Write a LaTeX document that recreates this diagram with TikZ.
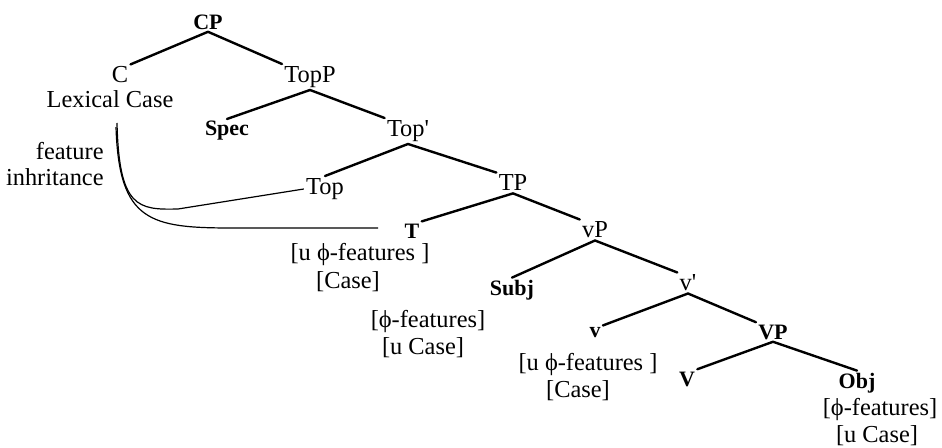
\documentclass[tikz,border=0pt]{standalone}
\usepackage{fontspec}
\setmainfont{Liberation Serif}
\newfontfamily\treeserif{Liberation Serif}
\begin{document}
\begin{tikzpicture}[x=0.5pt,y=-0.5pt,
  lab/.style={inner sep=1pt, font=\treeserif\fontsize{12.2}{14}\selectfont},
  blab/.style={inner sep=1pt, font=\treeserif\fontsize{11}{12}\selectfont\bfseries},
  feat/.style={inner sep=1pt, font=\treeserif\fontsize{12.2}{14}\selectfont},
  branch/.style={line width=1.2pt, line cap=round},
  inh/.style={line width=0.6pt}]
\useasboundingbox (0,0) rectangle (942,448);

% tree nodes
\node[blab] (CP) at (208,22) {CP};
\node[lab] (C) at (120,75) {C};
\node[lab] (LC) at (110,99) {Lexical Case};
\node[lab] (TopP) at (310,77) {TopP};
\node[blab] (Spec) at (227,131) {Spec};
\node[lab] (Top1) at (408,131) {Top'};
\node[lab] (Top) at (325,189) {Top};
\node[lab] (TP) at (513,183) {TP};
\node[blab] (T) at (412,231) {T};
\node[feat] (Tf1) at (360,255) {[u ϕ-features ]};
\node[feat] (Tf2) at (348,282) {[Case]};
\node[lab] (vP) at (595,230) {vP};
\node[blab] (Subj) at (512,290) {Subj};
\node[feat] (Sf1) at (428,322) {[ϕ-features]};
\node[feat] (Sf2) at (423,348) {[u Case]};
\node[lab] (v1) at (688,283) {v'};
\node[blab] (v) at (595,333) {v};
\node[feat] (vf1) at (588,365) {[u ϕ-features ]};
\node[feat] (vf2) at (578,391) {[Case]};
\node[blab] (VP) at (773,332) {VP};
\node[blab] (V) at (687,379) {V};
\node[blab] (Obj) at (857,383) {Obj};
\node[feat] (Of1) at (880,410) {[ϕ-features]};
\node[feat] (Of2) at (877,436) {[u Case]};

\node[lab, align=right, anchor=east] (FI) at (106,164) {feature\\[-1pt]inhritance};

% branches
\draw[branch] (CP.south) -- (C.north east);
\draw[branch] (CP.south) -- (TopP.north west);
\draw[branch] (TopP.south) -- (Spec.north);
\draw[branch] (TopP.south) -- (Top1.north west);
\draw[branch] (Top1.south) -- (Top.north);
\draw[branch] (Top1.south) -- (TP.north west);
\draw[branch] (TP.south) -- (T.north east);
\draw[branch] (TP.south) -- (vP.north west);
\draw[branch] (vP.south) -- (Subj.north);
\draw[branch] (vP.south) -- (v1.north west);
\draw[branch] (v1.south) -- (v.north east);
\draw[branch] (v1.south) -- (VP.north west);
\draw[branch] (VP.south) -- (V.north east);
\draw[branch] (VP.south) -- (Obj.north);

% feature inheritance curves
\coordinate (s1) at (117,123);
\coordinate (s2) at (116,127);
\coordinate (e2) at (378,228);
\draw[inh] (s1) .. controls (119,208) and (138,210) .. (178,209) -- (Top.west);
\draw[inh] (s2) .. controls (119,222) and (150,228) .. (233,228) -- (e2);
\end{tikzpicture}
\end{document}
